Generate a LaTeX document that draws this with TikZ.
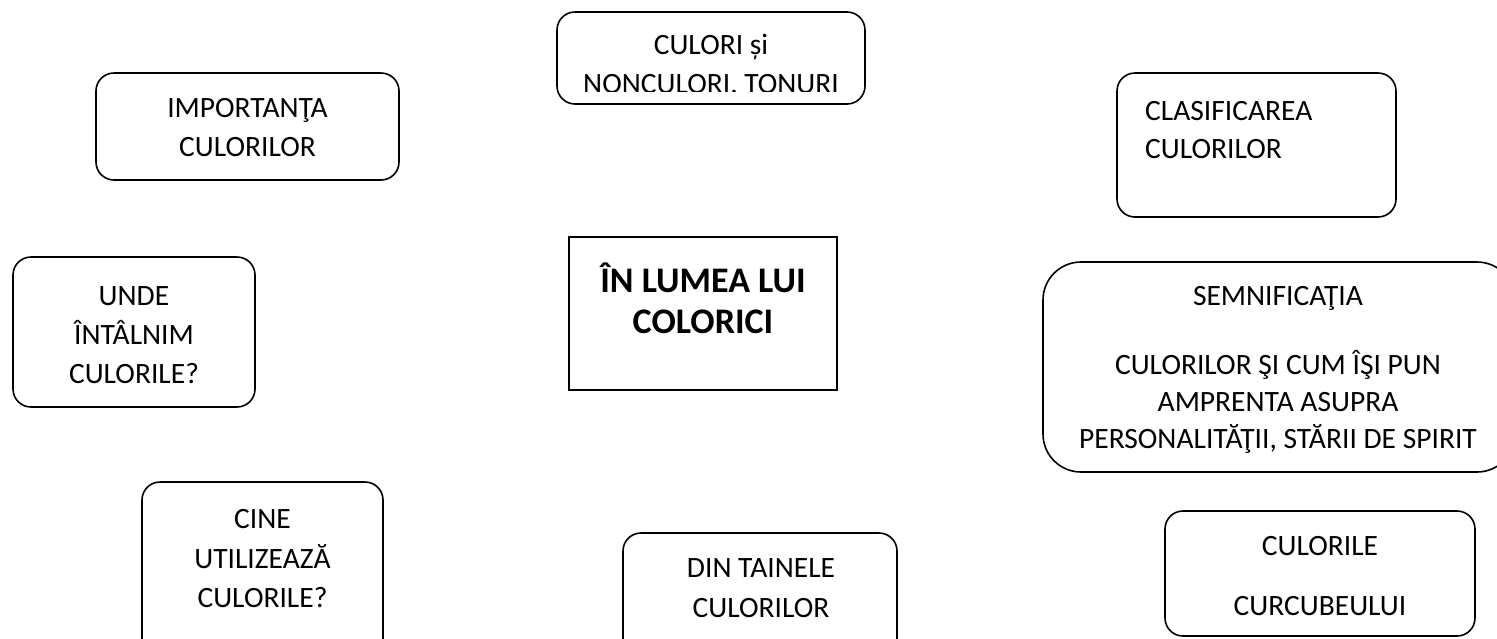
\documentclass[tikz,border=0pt]{standalone}
\usepackage{fontspec}
\setmainfont{Carlito}
\begin{document}
\begin{tikzpicture}[x=1pt,y=-1pt,
  box/.style={draw=black,line width=1.6pt,rounded corners=18pt,inner sep=0pt,fill=white},
  sqbox/.style={draw=black,line width=1.6pt,inner sep=0pt},
  lbl/.style={inner sep=0pt,anchor=base,font=\fontsize{29.5}{34}\selectfont},
  lbll/.style={lbl,anchor=base west},
  ttl/.style={inner sep=0pt,anchor=base,font=\fontsize{36}{43}\selectfont\bfseries}]
\useasboundingbox (0,0) rectangle (1497,638);
\clip (0,0) rectangle (1497,638);
% box 1 (text clipped)
\begin{scope}
\clip (557,12) rectangle (865,91);
\node[lbl] (c1a) at (711,54) {CULORI și};
\node[lbl] (c1b) at (711,93.5) {NONCULORI. TONURI};
\end{scope}
\node[box,fill=none,minimum width=308pt,minimum height=92pt] (b1) at (711,58) {};
% box 2
\node[box,minimum width=303pt,minimum height=107pt] (b2) at (247.5,126.5) {};
\node[lbl] (c2a) at (b2.center|-0,117) {IMPORTANŢA};
\node[lbl] (c2b) at (b2.center|-0,156) {CULORILOR};
% box 3
\node[box,minimum width=279pt,minimum height=144pt] (b3) at (1256.5,145) {};
\node[lbll] (c3a) at (1145,120) {CLASIFICAREA};
\node[lbll] (c3b) at (1145,158) {CULORILOR};
% box 4
\node[box,minimum width=242pt,minimum height=150pt] (b4) at (134,332) {};
\node[lbl] (c4a) at (b4.center|-0,305) {UNDE};
\node[lbl] (c4b) at (b4.center|-0,344) {ÎNTÂLNIM};
\node[lbl] (c4c) at (b4.center|-0,383) {CULORILE?};
% box 5 (title)
\node[sqbox,minimum width=268pt,minimum height=153pt] (b5) at (703,313.5) {};
\node[ttl] (c5a) at (703,292) {ÎN LUMEA LUI};
\node[ttl] (c5b) at (703,333) {COLORICI};
% box 6
\node[box,rounded corners=38pt,minimum width=472pt,minimum height=210pt] (b6) at (1279,367) {};
\node[lbl] (c6a) at (1278,305) {SEMNIFICAŢIA};
\node[lbl] (c6b) at (1278,374) {CULORILOR ŞI CUM ÎŞI PUN};
\node[lbl] (c6c) at (1278,411) {AMPRENTA ASUPRA};
\node[lbl] (c6d) at (1278,448) {PERSONALITĂŢII, STĂRII DE SPIRIT};
% box 7
\node[box,minimum width=241pt,minimum height=190pt] (b7) at (262.5,577) {};
\node[lbl] (c7a) at (b7.center|-0,528) {CINE};
\node[lbl] (c7b) at (b7.center|-0,568) {UTILIZEAZĂ};
\node[lbl] (c7c) at (b7.center|-0,607) {CULORILE?};
% box 8
\node[box,minimum width=274pt,minimum height=150pt] (b8) at (760,608) {};
\node[lbl] (c8a) at (761,577) {DIN TAINELE};
\node[lbl] (c8b) at (761,617) {CULORILOR};
% box 9
\node[box,minimum width=310pt,minimum height=125pt] (b9) at (1320,573.5) {};
\node[lbl] (c9a) at (b9.center|-0,555) {CULORILE};
\node[lbl] (c9b) at (b9.center|-0,615) {CURCUBEULUI};
\end{tikzpicture}
\end{document}
